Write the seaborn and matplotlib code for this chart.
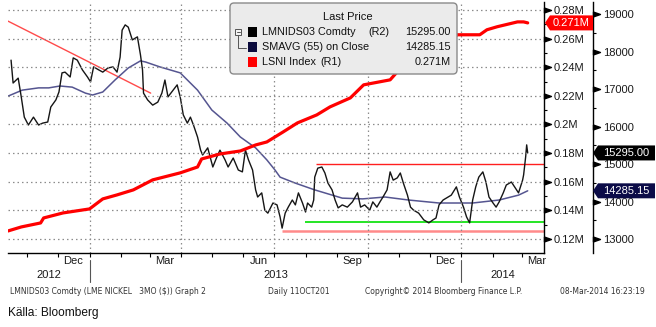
import numpy as np
import pandas as pd
import matplotlib
matplotlib.use("Agg")
import matplotlib.pyplot as plt
import matplotlib.dates as mdates
import matplotlib.ticker as mticker
import matplotlib.transforms as mtrans
from matplotlib.patches import FancyBboxPatch, Polygon, Rectangle
from matplotlib.lines import Line2D
from matplotlib.path import Path
from matplotlib.markers import MarkerStyle
import seaborn as sns

# ---------------- data ----------------
price_dates = [
    "2012-10-16", "2012-10-18", "2012-10-23", "2012-10-26", "2012-10-29", "2012-11-02", "2012-11-07",
    "2012-11-12", "2012-11-16", "2012-11-21", "2012-11-24", "2012-11-29", "2012-12-02", "2012-12-05",
    "2012-12-08", "2012-12-13", "2012-12-16", "2012-12-20", "2012-12-25", "2012-12-30", "2013-01-02",
    "2013-01-05", "2013-01-10", "2013-01-14", "2013-01-19", "2013-01-24", "2013-01-28", "2013-01-31",
    "2013-02-02", "2013-02-05", "2013-02-08", "2013-02-12", "2013-02-17", "2013-02-20", "2013-02-22",
    "2013-02-23", "2013-02-27", "2013-03-04", "2013-03-09", "2013-03-13", "2013-03-16", "2013-03-19",
    "2013-03-24", "2013-03-28", "2013-03-31", "2013-04-03", "2013-04-07", "2013-04-10", "2013-04-13",
    "2013-04-17", "2013-04-20", "2013-04-22", "2013-04-27", "2013-05-02", "2013-05-06", "2013-05-09",
    "2013-05-14", "2013-05-17", "2013-05-22", "2013-05-27", "2013-05-31", "2013-06-03", "2013-06-06",
    "2013-06-10", "2013-06-13", "2013-06-15", "2013-06-19", "2013-06-22", "2013-06-25", "2013-06-30",
    "2013-07-04", "2013-07-07", "2013-07-09", "2013-07-12", "2013-07-15", "2013-07-19", "2013-07-22",
    "2013-07-25", "2013-07-29", "2013-08-01", "2013-08-03", "2013-08-07", "2013-08-09", "2013-08-10",
    "2013-08-13", "2013-08-17", "2013-08-20", "2013-08-23", "2013-08-27", "2013-08-30", "2013-09-02",
    "2013-09-06", "2013-09-11", "2013-09-16", "2013-09-21", "2013-09-24", "2013-09-28", "2013-10-03",
    "2013-10-06", "2013-10-10", "2013-10-13", "2013-10-16", "2013-10-20", "2013-10-23", "2013-10-26",
    "2013-10-30", "2013-11-02", "2013-11-05", "2013-11-09", "2013-11-12", "2013-11-15", "2013-11-20",
    "2013-11-25", "2013-11-30", "2013-12-04", "2013-12-07", "2013-12-10", "2013-12-14", "2013-12-17",
    "2013-12-22", "2013-12-27", "2013-12-30", "2014-01-03", "2014-01-06", "2014-01-09", "2014-01-12",
    "2014-01-15", "2014-01-18", "2014-01-22", "2014-01-25", "2014-01-28", "2014-02-01", "2014-02-04",
    "2014-02-07", "2014-02-11", "2014-02-14", "2014-02-19", "2014-02-24", "2014-02-26", "2014-03-02",
    "2014-03-03", "2014-03-05", "2014-03-06", "2014-03-07",
]
price_close = [
    17770, 17160, 17290, 16790, 16250, 16040, 16250,
    16040, 16090, 16120, 16520, 16710, 16920, 17430,
    17450, 17320, 17830, 17770, 17510, 17320, 17190,
    17590, 17510, 17450, 17560, 17590, 17450, 17850,
    18570, 18710, 18650, 18310, 18390, 17910, 17510,
    16890, 16710, 16570, 16650, 16890, 17240, 16790,
    16970, 17110, 16790, 16310, 16090, 16250, 16040,
    15720, 15370, 15240, 15430, 14920, 15190, 15370,
    15110, 14920, 15160, 14840, 14790, 15370, 15110,
    14840, 14310, 14120, 14230, 13770, 13690, 13960,
    13910, 13590, 13290, 13690, 13850, 14040, 13910,
    14230, 13960, 13720, 13960, 13850, 14040, 14650,
    14890, 14920, 14760, 14490, 14310, 14040, 13830,
    13910, 13850, 13990, 14230, 13850, 13910, 13770,
    13990, 13850, 13990, 14120, 14310, 14790, 14570,
    14630, 14760, 14490, 14170, 13850, 13770, 13690,
    13510, 13430, 13510, 13560, 13910, 14040, 14090,
    14170, 14390, 14120, 13850, 13590, 13430, 14040,
    14390, 14650, 14790, 14520, 14120, 13960, 13850,
    13990, 14230, 14440, 14520, 14310, 14230, 14570,
    14710, 15190, 15510, 15295.00,
]

sma_dates = [
    "2012-10-13", "2012-10-27", "2012-11-12", "2012-11-22", "2012-12-03", "2012-12-15", "2012-12-28",
    "2013-01-04", "2013-01-14", "2013-01-26", "2013-02-08", "2013-02-20", "2013-02-25", "2013-03-11",
    "2013-03-31", "2013-04-17", "2013-05-01", "2013-05-16", "2013-05-29", "2013-06-13", "2013-06-24",
    "2013-07-02", "2013-07-07", "2013-07-22", "2013-08-10", "2013-09-06", "2013-09-26", "2013-10-18",
    "2013-11-10", "2013-12-10", "2014-01-12", "2014-02-07", "2014-02-26", "2014-03-07",
]
sma_values = [
    16810, 16970, 17030, 17030, 17080, 17050, 16890,
    16840, 16920, 17240, 17560, 17750, 17720, 17590,
    17430, 16970, 16440, 16090, 15720, 15430, 15110,
    14840, 14650, 14490, 14310, 14090, 14070, 14120,
    14040, 13960, 13960, 14040, 14170, 14285.15,
]

lsni_dates = [
    "2012-10-13", "2012-10-26", "2012-11-14", "2012-11-17", "2012-12-06", "2013-01-01", "2013-01-14",
    "2013-01-28", "2013-02-13", "2013-03-04", "2013-03-31", "2013-04-17", "2013-04-21", "2013-05-09",
    "2013-05-29", "2013-06-13", "2013-06-24", "2013-07-10", "2013-07-24", "2013-08-12", "2013-08-25",
    "2013-09-14", "2013-09-27", "2013-10-23", "2013-10-30", "2013-11-18", "2013-11-28", "2013-12-14",
    "2013-12-28", "2014-01-19", "2014-01-26", "2014-02-05", "2014-02-25", "2014-03-03", "2014-03-07",
]
lsni_values = [
    125600, 128400, 131200, 134700, 138200, 141000, 148000,
    150800, 154300, 161300, 166200, 170300, 175900, 179400,
    181500, 185700, 187800, 194800, 201100, 206700, 212300,
    218600, 227700, 231200, 236800, 246600, 254300, 255700,
    262700, 262700, 266200, 268300, 271700, 271700, 271000,
]

# horizontal support / resistance levels (R2 scale)
level_values = [15000, 13460, 13210]
level_starts = ["2013-08-11", "2013-07-31", "2013-07-09"]
level_colors = ["#ff1f1f", "#00e000", "#ff8a8a"]
level_widths = [1.0, 1.2, 1.8]

# falling trend line (R2 scale)
trend_dates = ["2012-10-13", "2013-03-02"]
trend_values = [18810, 16890]

x_start, x_end = "2012-10-13", "2014-03-23"
r1_range = (110200, 285600)
r2_range = (12627, 19320)

legend_rows = [
    ("LMNIDS03 Comdty", "(R2)", "#000000"),
    ("SMAVG (55) on Close", "", "#0a0a3c"),
    ("LSNI Index", "(R1)", "#ff0000"),
]

# ---------------- frames ----------------
price_df = pd.DataFrame({"date": pd.to_datetime(price_dates), "value": price_close})
sma_df = pd.DataFrame({"date": pd.to_datetime(sma_dates), "value": sma_values})
lsni_df = pd.DataFrame({"date": pd.to_datetime(lsni_dates), "value": lsni_values})

sns.set_theme(style="white")
plt.rcParams["font.family"] = ["Liberation Sans", "DejaVu Sans"]

W, H, DPI = 656, 327, 100
fig = plt.figure(figsize=(W / DPI, H / DPI), dpi=DPI)
fig.patch.set_facecolor("white")

ax1 = fig.add_axes([8 / W, (H - 253) / H, 536 / W, 251 / H])  # R1 (LSNI)
ax2 = ax1.twinx()                                               # R2 (price)
ax1.set_zorder(ax2.get_zorder() + 1)
ax1.patch.set_visible(False)

xs, xe = pd.Timestamp(x_start), pd.Timestamp(x_end)

# ---- R2 content: price, SMA, levels, trend ----
for v, s, c, w in zip(level_values, level_starts, level_colors, level_widths):
    ax2.hlines(v, pd.Timestamp(s), xe, colors=c, linewidth=w, zorder=2)
ax2.plot(pd.to_datetime(trend_dates), trend_values, color="#ff4a4a", lw=1.0, zorder=2)

sns.lineplot(data=sma_df, x="date", y="value", ax=ax2, color="#555590", lw=1.1, zorder=3)
sns.lineplot(data=price_df, x="date", y="value", ax=ax2, color="#151515", lw=1.0, zorder=4)

# ---- R1 content: LSNI ----
sns.lineplot(data=lsni_df, x="date", y="value", ax=ax1, color="#ff0000", lw=2.3, zorder=5)

ax1.set_xlim(xs, xe)
ax1.set_ylim(*r1_range)
ax2.set_ylim(*r2_range)
for a in (ax1, ax2):
    a.set_xlabel("")
    a.set_ylabel("")

# grids
dot = (0, (1.2, 2.4))
ax1.yaxis.set_major_locator(mticker.MultipleLocator(20000))
ax1.yaxis.set_minor_locator(mticker.MultipleLocator(10000))
ax1.yaxis.set_major_formatter(mticker.FuncFormatter(lambda v, p: f"{v / 1e6:g}M"))
ax1.grid(True, axis="y", which="major", color="#8c8c8c", linestyle=dot, lw=0.9)
for q in pd.date_range(xs, xe, freq="QS"):
    ax1.axvline(q, color="#8c8c8c", linestyle=dot, lw=0.9, zorder=0)

# spines
for a in (ax1, ax2):
    a.spines["top"].set_visible(False)
    a.spines["left"].set_visible(False)
ax2.spines["bottom"].set_visible(False)
ax1.spines["bottom"].set_color("black")
ax1.spines["bottom"].set_linewidth(1.0)
ax1.spines["right"].set_color("black")
ax1.spines["right"].set_linewidth(1.0)
ax2.spines["right"].set_color("black")
ax2.spines["right"].set_linewidth(1.0)
ax2.spines["right"].set_position(("outward", 49 * 72 / DPI))

# y ticks
ax1.yaxis.tick_right()
ax1.tick_params(axis="y", which="major", length=0, pad=7, labelsize=8, labelcolor="#1a1a1a")
ax1.tick_params(axis="y", which="minor", length=2.5, width=0.8, color="black", direction="out",
                right=True, left=False)
ax2.yaxis.set_major_locator(mticker.MultipleLocator(1000))
ax2.yaxis.set_minor_locator(mticker.MultipleLocator(500))
ax2.yaxis.set_major_formatter(mticker.FuncFormatter(lambda v, p: f"{v:.0f}"))
ax2.tick_params(axis="y", which="major", length=0, pad=7, labelsize=8, labelcolor="#1a1a1a")
ax2.tick_params(axis="y", which="minor", length=2.5, width=0.8, color="black", direction="out",
                right=True, left=False)
ax2.grid(False)

tri = MarkerStyle(Path([(0, -0.42), (1.2, 0), (0, 0.42), (0, -0.42)], closed=True))
for a, xpos in ((ax1, 1.0), (ax2, 1.0 + 49 / 536)):
    lo, hi = a.get_ylim()
    ticks = [t for t in a.get_yticks() if lo <= t <= hi]
    tr = mtrans.blended_transform_factory(a.transAxes, a.transData)
    a.plot([xpos] * len(ticks), ticks, linestyle="none", marker=tri, ms=10, color="black",
           transform=tr, clip_on=False, zorder=10)

# x ticks
ax1.xaxis.set_major_locator(mdates.MonthLocator(bymonth=[3, 6, 9, 12], bymonthday=16))
ax1.xaxis.set_major_formatter(mdates.DateFormatter("%b"))
ax1.xaxis.set_minor_locator(mdates.MonthLocator())
ax1.tick_params(axis="x", which="major", length=0, pad=2.5, labelsize=8, labelcolor="#1a1a1a")
ax1.tick_params(axis="x", which="minor", length=3, width=0.8, color="black", direction="out",
                bottom=True)
ax2.tick_params(axis="x", which="both", length=0, labelbottom=False)

# year labels and separators
trx = mtrans.blended_transform_factory(ax1.transData, ax1.transAxes)
for yr in range(xs.year, xe.year + 1):
    a0 = max(xs, pd.Timestamp(f"{yr}-01-01"))
    a1 = min(xe, pd.Timestamp(f"{yr + 1}-01-01"))
    mid = a0 + (a1 - a0) / 2
    ax1.text(mid, -0.088, str(yr), transform=trx, ha="center", va="center", fontsize=8,
             color="#1a1a1a", clip_on=False)
    if pd.Timestamp(f"{yr}-01-01") > xs:
        ax1.plot([pd.Timestamp(f"{yr}-01-01")] * 2, [-0.028, -0.116], transform=trx,
                 color="#555555", lw=0.8, clip_on=False)

# ---------------- overlays in pixel space ----------------
T = fig.dpi_scale_trans


def P(px, py):
    return (px / DPI, (H - py) / DPI)


# legend box
lb = FancyBboxPatch(P(230, 74), 227 / DPI, 71 / DPI,
                    boxstyle="round,pad=0,rounding_size=0.04",
                    fc="#ebebeb", ec="#8a8a8a", lw=1.0, transform=T, zorder=20)
fig.add_artist(lb)
fig.text(*P(348, 17), "Last Price", transform=T, ha="center", va="center", fontsize=8,
         color="#111111", zorder=21)
row_y = [32, 47, 62]
row_vals = [f"{price_close[-1]:.2f}", f"{sma_values[-1]:.2f}", f"{lsni_values[-1] / 1e6:.3f}M"]
tag_x = [368, None, 320]
for (name, tag, col), yy, val, tx in zip(legend_rows, row_y, row_vals, tag_x):
    fig.add_artist(Rectangle(P(248, yy + 5), 9 / DPI, 10 / DPI, transform=T, fc=col,
                             ec="none", zorder=21))
    fig.text(*P(262, yy), name, transform=T, ha="left", va="center", fontsize=7.8,
             color="#111111", zorder=21)
    if tag:
        fig.text(*P(tx, yy), tag, transform=T, ha="left", va="center", fontsize=7.8,
                 color="#111111", zorder=21)
    fig.text(*P(451, yy), val, transform=T, ha="right", va="center", fontsize=7.8,
             color="#111111", zorder=21)
# small bracket icon
fig.add_artist(Rectangle(P(235, 35), 6 / DPI, 6 / DPI, transform=T, fc="#f4f4f4", ec="#555555",
                         lw=0.7, zorder=21))
fig.add_artist(Line2D([P(236.5, 32)[0], P(239.5, 32)[0]], [P(0, 32)[1]] * 2, transform=T,
                      color="#555555", lw=0.7, zorder=22))
fig.add_artist(Line2D([P(238, 0)[0], P(238, 0)[0], P(246, 0)[0]],
                      [P(0, 35)[1], P(0, 48)[1], P(0, 48)[1]], transform=T,
                      color="#555555", lw=0.7, zorder=22))


# value tags on the axes
def value_tag(ax, val, x_point, x_right, color, text):
    y_disp = ax.transData.transform((mdates.date2num(xs), val))[1]
    yi = y_disp / DPI
    hh = 7.5 / DPI
    xp = x_point / DPI
    verts = [(xp, yi), (xp + 5 / DPI, yi + hh), (x_right / DPI, yi + hh),
             (x_right / DPI, yi - hh), (xp + 5 / DPI, yi - hh)]
    fig.add_artist(Polygon(verts, closed=True, fc=color, ec="none", transform=T, zorder=25))
    fig.text((xp + 5 / DPI + x_right / DPI) / 2, yi, text, transform=T, ha="center",
             va="center", fontsize=8, color="white", zorder=26)


value_tag(ax1, lsni_values[-1], 545, 593, "#ff0000", row_vals[2])
value_tag(ax2, price_close[-1], 593, 655, "#000000", row_vals[0])
value_tag(ax2, sma_values[-1], 593, 655, "#0c0c48", row_vals[1])

# footer
foot_kw = dict(fontsize=5.5, color="#333333", va="center", family="DejaVu Sans")
fy = 1 - 292 / H
fig.text(10 / W, fy, "LMNIDS03 Comdty (LME NICKEL   3MO ($)) Graph 2", ha="left", **foot_kw)
fig.text(268 / W, fy, "Daily 11OCT201", ha="left", **foot_kw)
fig.text(365 / W, fy, "Copyright\u00a9 2014 Bloomberg Finance L.P.", ha="left", **foot_kw)
fig.text(560 / W, fy, "08-Mar-2014 16:23:19", ha="left", **foot_kw)
fig.text(8 / W, 1 - 313 / H, "Källa: Bloomberg", ha="left", va="center", fontsize=8.6,
         color="#111111", family=["Liberation Sans", "DejaVu Sans"])

fig.savefig("out.png", dpi=DPI, facecolor="white")
